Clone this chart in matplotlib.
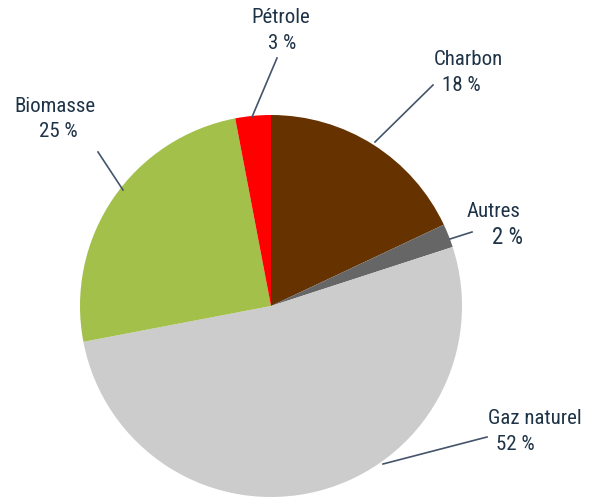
import matplotlib.pyplot as plt

# energy mix shares, clockwise from the top
labels = ['Charbon', 'Autres', 'Gaz naturel', 'Biomasse', 'Pétrole']
shares = [18, 2, 52, 25, 3]
colors = ['#663300', '#666666', '#cccccc', '#a2c04a', '#ff0000']

plt.rcParams['font.family'] = ['Roboto Condensed', 'DejaVu Sans']

W, H = 594, 499
fig = plt.figure(figsize=(W / 100, H / 100), dpi=100)
ax = fig.add_axes([0, 0, 1, 1])

cx, cy, r = 271, H - 306, 191
ax.pie(shares, colors=colors, startangle=90, counterclock=False,
       center=(cx, cy), radius=r, frame=True,
       wedgeprops={'linewidth': 0})
ax.set_xlim(0, W)
ax.set_ylim(0, H)
ax.set_aspect('equal')
ax.axis('off')

text_color = '#1f3347'
line_color = '#44546a'

# leader lines (start, end) and label positions in pixel space
leaders = {
    'Charbon': ((375, 142), (433, 85)),
    'Autres': ((450, 239), (472, 232)),
    'Gaz naturel': ((383, 464), (487, 437)),
    'Biomasse': ((123, 190), (98, 152)),
    'Pétrole': ((252, 117), (277, 58)),
}
name_pos = {
    'Charbon': (468, 59),
    'Autres': (494, 211),
    'Gaz naturel': (535, 418),
    'Biomasse': (55, 106),
    'Pétrole': (281, 17),
}
value_pos = {
    'Charbon': (461, 85),
    'Autres': (508, 237),
    'Gaz naturel': (515, 444),
    'Biomasse': (58, 131),
    'Pétrole': (282, 43),
}

fs = 15
for lab, val in zip(labels, shares):
    (x0, y0), (x1, y1) = leaders[lab]
    ax.plot([x0, x1], [H - y0, H - y1], color=line_color, lw=1.2)
    nx, ny = name_pos[lab]
    ax.text(nx, H - ny, lab, ha='center', va='center', fontsize=fs,
            color=text_color)
    vx, vy = value_pos[lab]
    size = 16.5 if lab == 'Autres' else fs
    ax.text(vx, H - vy, f'{val} %', ha='center', va='center', fontsize=size,
            color=text_color)

fig.savefig('out.png', dpi=100)
